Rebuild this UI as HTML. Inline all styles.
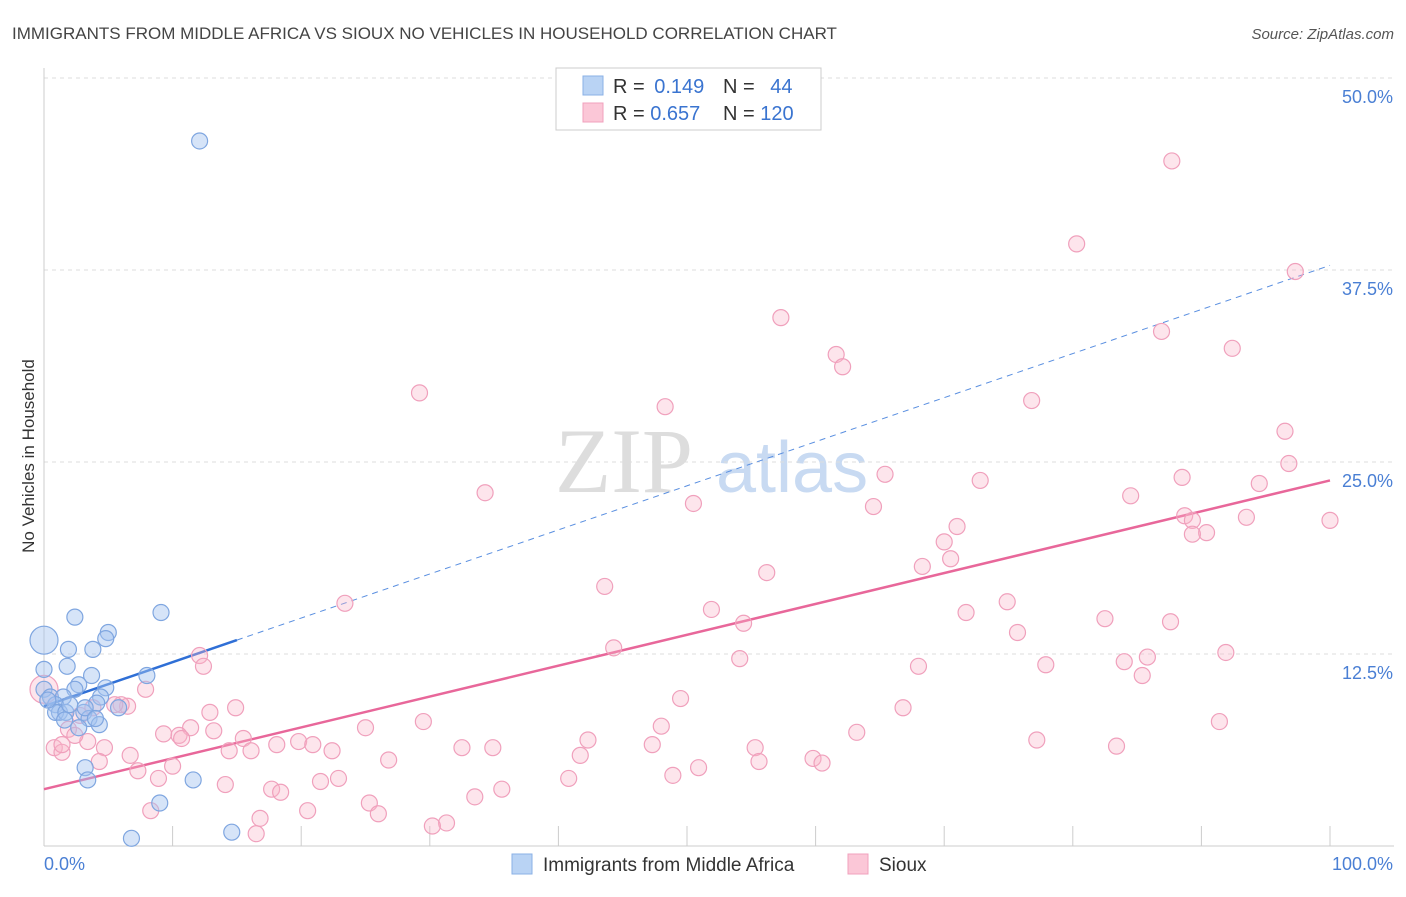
<!DOCTYPE html>
<html><head><meta charset="utf-8"><style>
body{margin:0;background:#fff;font-family:"Liberation Sans",sans-serif;}
</style></head><body>
<svg id="chart" width="1406" height="892" xmlns="http://www.w3.org/2000/svg" font-family="Liberation Sans, sans-serif">
<text x="12" y="39" font-size="17" fill="#444">IMMIGRANTS FROM MIDDLE AFRICA VS SIOUX NO VEHICLES IN HOUSEHOLD CORRELATION CHART</text>
<text x="1394" y="39" font-size="15" fill="#555" font-style="italic" text-anchor="end">Source: ZipAtlas.com</text>
<text transform="translate(34,456) rotate(-90)" font-size="17" fill="#333" text-anchor="middle">No Vehicles in Household</text>
<g>
<text x="555" y="492" font-size="92" font-family="Liberation Serif, serif" fill="#ddd">ZIP</text>
<text x="716" y="492" font-size="72" fill="#c8daf2">atlas</text>
</g>
<g id="grid"></g><g id="ticks"></g><g id="trend"></g><g id="pts"></g>
<g>
<rect x="556" y="68" width="265" height="62" fill="#fff" stroke="#ccc"/>
<rect x="583" y="76" width="20" height="19" fill="#b9d3f4" stroke="#8ab0e6"/>
<rect x="583" y="103" width="20" height="19" fill="#fbc7d7" stroke="#f0a0bc"/>
<text x="613" y="93" font-size="20" fill="#333">R = <tspan fill="#3a74d0" dx="4">0.149</tspan></text>
<text x="723" y="93" font-size="20" fill="#333">N = <tspan fill="#3a74d0" dx="10">44</tspan></text>
<text x="613" y="120" font-size="20" fill="#333">R = <tspan fill="#3a74d0">0.657</tspan></text>
<text x="723" y="120" font-size="20" fill="#333">N = <tspan fill="#3a74d0">120</tspan></text>
</g>
<g>
<rect x="512" y="854" width="20" height="20" fill="#b9d3f4" stroke="#8ab0e6"/>
<text x="543" y="871" font-size="19" fill="#333">Immigrants from Middle Africa</text>
<rect x="848" y="854" width="20" height="20" fill="#fbc7d7" stroke="#f0a0bc"/>
<text x="879" y="871" font-size="19" fill="#333">Sioux</text>
</g>
</svg>
<script>
const yTicks=[12.5,25,37.5,50];
const yTickLabels=["12.5%","25.0%","37.5%","50.0%"];
const xTicks=[0,10,20,30,40,50,60,70,80,90,100];
const blueX=[12.1,2.4,9.1,5.0,4.8,1.9,3.8,1.8,8.0,3.7,2.7,4.8,2.4,0,0,0.5,1.5,4.4,0.9,4.1,5.8,3.1,1.2,0.9,1.7,3.5,4.3,2.7,3.2,3.4,11.6,9.0,6.8,14.6,0,0.3,2.0,3.2,4.0,1.6];
const blueY=[45.9,14.9,15.2,13.9,13.5,12.8,12.8,11.7,11.1,11.1,10.5,10.3,10.2,13.4,10.2,9.7,9.7,9.7,9.2,9.3,9.0,8.7,8.7,8.7,8.7,8.3,7.9,7.7,5.1,4.3,4.3,2.8,0.5,0.9,11.5,9.5,9.2,9.0,8.3,8.2];
const pinkX=[87.7,80.3,97.3,57.3,86.9,92.4,61.6,62.1,29.2,76.8,48.3,96.5,34.3,65.4,96.8,72.8,88.5,94.5,50.5,84.5,64.5,100,93.5,71.0,88.7,89.3,90.4,89.3,70.0,70.5,68.3,56.2,43.6,23.4,74.9,51.9,71.7,82.5,87.6,54.4,75.7,44.3,12.1,12.4,54.1,77.9,84.0,85.8,91.9,68.0,85.4,7.9,49.5,14.9,12.9,66.8,6.5,48.0,11.4,25.0,29.5,9.3,10.5,10.7,91.4,13.2,42.3,63.2,15.5,1.9,2.8,3.4,18.1,19.8,20.9,47.3,22.4,32.5,34.9,0.8,1.4,4.7,14.4,16.1,55.3,77.2,83.4,41.7,26.8,6.7,4.3,59.8,60.5,55.6,50.9,7.3,10.0,48.9,22.9,21.5,8.9,40.8,14.1,17.7,18.4,35.6,33.5,20.5,25.3,8.3,26.0,16.8,31.3,30.2,16.5,1.4,2.4,3.8,6.0,0,5.5];
const pinkY=[44.6,39.2,37.4,34.4,33.5,32.4,32.0,31.2,29.5,29.0,28.6,27.0,23.0,24.2,24.9,23.8,24.0,23.6,22.3,22.8,22.1,21.2,21.4,20.8,21.5,21.2,20.4,20.3,19.8,18.7,18.2,17.8,16.9,15.8,15.9,15.4,15.2,14.8,14.6,14.5,13.9,12.9,12.4,11.7,12.2,11.8,12.0,12.3,12.6,11.7,11.1,10.2,9.6,9.0,8.7,9.0,9.1,7.8,7.7,7.7,8.1,7.3,7.2,7.0,8.1,7.5,6.9,7.4,7.0,7.6,8.5,6.8,6.6,6.8,6.6,6.6,6.2,6.4,6.4,6.4,6.1,6.4,6.2,6.2,6.4,6.9,6.5,5.9,5.6,5.9,5.5,5.7,5.4,5.5,5.1,4.9,5.2,4.6,4.4,4.2,4.4,4.4,4.0,3.7,3.5,3.7,3.2,2.3,2.8,2.3,2.1,1.8,1.5,1.3,0.8,6.6,7.2,9.0,9.2,10.2,9.2];
const blueTrend=[9.1,37.8];
const pinkTrend=[3.7,23.8];
const NS="http://www.w3.org/2000/svg";
const X0=44,X1=1330,Y0=846,YT=78;
const sx=v=>X0+(X1-X0)*v/100;
const sy=v=>Y0-(Y0-YT)*v/50;
function mk(p,t,a){const e=document.createElementNS(NS,t);for(const k in a)e.setAttribute(k,a[k]);document.getElementById(p).appendChild(e);return e;}
yTicks.forEach((t,i)=>{
 const l=mk('grid','line',{x1:X0,x2:1394,y1:sy(t),y2:sy(t),stroke:'#ddd','stroke-dasharray':'4,4'});
 
 
 const tx=mk('ticks','text',{x:1393,y:sy(t)+25,'font-size':18,fill:'#4a7fd4','text-anchor':'end'});
 tx.textContent=yTickLabels[i];
 
 
});
const ax=mk('grid','line',{x1:X0,x2:1394,y1:Y0,y2:Y0,stroke:'#ccc'});


const ay=mk('grid','line',{x1:X0,x2:X0,y1:68,y2:Y0,stroke:'#ccc'});


xTicks.forEach(t=>{
 const l=mk('grid','line',{x1:sx(t),x2:sx(t),y1:826,y2:Y0,stroke:'#ccc'});
 
 
});
const xl0=mk('ticks','text',{x:44,y:870,'font-size':18,fill:'#4a7fd4'});xl0.textContent='0.0%';


const xl1=mk('ticks','text',{x:1393,y:870,'font-size':18,fill:'#4a7fd4','text-anchor':'end'});xl1.textContent='100.0%';


const bAt=x=>blueTrend[0]+(blueTrend[1]-blueTrend[0])*x/100;
const pAt=x=>pinkTrend[0]+(pinkTrend[1]-pinkTrend[0])*x/100;
const bd=mk('trend','line',{x1:sx(15),y1:sy(bAt(15)),x2:sx(100),y2:sy(bAt(100)),stroke:'#5a8fe0','stroke-width':1,'stroke-dasharray':'6,5'});


const bs=mk('trend','line',{x1:sx(0),y1:sy(bAt(0)),x2:sx(15),y2:sy(bAt(15)),stroke:'#2f6fd6','stroke-width':2.5});


const ps=mk('trend','line',{x1:sx(0),y1:sy(pAt(0)),x2:sx(100),y2:sy(pAt(100)),stroke:'#e8679a','stroke-width':2.5});


pinkX.forEach((x,i)=>{
 const r=(x===0)?14:8;
 const c=mk('pts','circle',{cx:sx(x),cy:sy(pinkY[i]),r:r,fill:'rgba(248,180,200,0.35)',stroke:'#f0a0bc','stroke-width':1.2});
 
 
});
blueX.forEach((x,i)=>{
 const r=(x===0&&blueY[i]>13)?14:8;
 const c=mk('pts','circle',{cx:sx(x),cy:sy(blueY[i]),r:r,fill:'rgba(164,196,240,0.45)',stroke:'#7fa6e0','stroke-width':1.2});
 
 
});
</script>
</body></html>
